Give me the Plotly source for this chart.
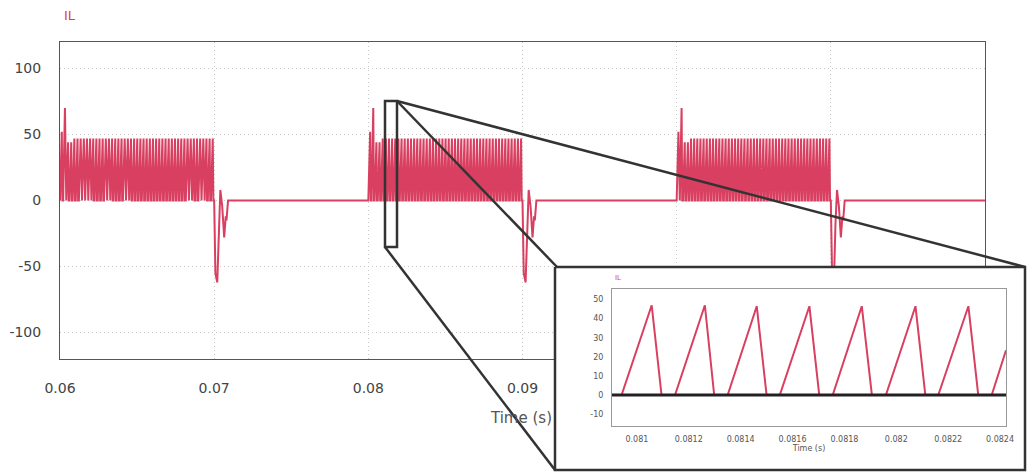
import plotly.graph_objects as go

W, H = 1028, 472

# ---------------- main chart data ----------------
burst_start = [0.060, 0.080, 0.100]          # s, start of each switching burst
burst_end = [0.070, 0.090, 0.110]            # s, end of each switching burst
switching_period = 0.000204                  # s
cycle_phase = [0.0, 0.57, 0.76]              # rise start, peak, back to zero (fraction of period)
peak_current = 47                            # A, ripple peak inside a burst
start_peaks = [52, 70, 44, 44]               # A, first cycle peaks of each burst (start-up spike)
ring_dt = [0.00008, 0.0002, 0.0003, 0.0004, 0.00052, 0.00065, 0.00075, 0.0008, 0.0009]
ring_val = [-55, -62, -18, 8, -4, -28, -12, -15, 0]   # A, ringing after a burst ends
t_stop = 0.12

main_x_ticks = [0.06, 0.07, 0.08, 0.09, 0.10, 0.11]
main_x_text = ["0.06", "0.07", "0.08", "0.09", "0.1", "0.11"]
main_y_ticks = [-100, -50, 0, 50, 100]
main_y_text = ["-100", "-50", "0", "50", "100"]

# ---------------- inset data ----------------
inset_t = [0.080904, 0.080941, 0.081057, 0.081095, 0.081147, 0.081262, 0.081298,
           0.081350, 0.081462, 0.081500, 0.081551, 0.081665, 0.081703, 0.081755,
           0.081867, 0.081906, 0.081960, 0.082074, 0.082112, 0.082162, 0.082278,
           0.082316, 0.082368, 0.082423]
inset_i = [0, 0, 47, 0, 0, 47, 0, 0, 46.5, 0, 0, 46.5, 0, 0, 46.5, 0, 0, 46.5,
           0, 0, 46.5, 0, 0, 23.5]
inset_x_ticks = [0.081, 0.0812, 0.0814, 0.0816, 0.0818, 0.082, 0.0822, 0.0824]
inset_x_text = ["0.081", "0.0812", "0.0814", "0.0816", "0.0818", "0.082", "0.0822", "0.0824"]
inset_y_ticks = [-10, 0, 10, 20, 30, 40, 50]
inset_y_text = ["-10", "0", "10", "20", "30", "40", "50"]

RED = "#d83f60"
DARK = "#333333"

# build the main waveform from the read burst parameters
t, cur = [], []
T = switching_period
for b, (s, e) in enumerate(zip(burst_start, burst_end)):
    k = 0
    while s + (k + 1) * T <= e:
        t0 = s + k * T
        pk = start_peaks[k] if k < len(start_peaks) else peak_current
        t += [t0, t0 + cycle_phase[1] * T, t0 + cycle_phase[2] * T]
        cur += [0, pk, 0]
        k += 1
    t.append(e)
    cur.append(0)
    for dt, v in zip(ring_dt, ring_val):
        t.append(e + dt)
        cur.append(v)
t.append(t_stop)
cur.append(0)


def px(x):
    return x / W


def py(y):
    return 1 - y / H


fig = go.Figure()

# main trace
fig.add_trace(go.Scatter(x=t, y=cur, mode="lines", line=dict(color=RED, width=2),
                         xaxis="x", yaxis="y", showlegend=False, hoverinfo="skip"))

# inset frame (white panel covering the main plot), in a pixel-space overlay subplot
frame_x = [555, 1025, 1025, 555, 555]
frame_y = [267, 267, 470, 470, 267]
fig.add_trace(go.Scatter(x=frame_x, y=frame_y, mode="lines", fill="toself",
                         fillcolor="white", line=dict(color=DARK, width=2.5),
                         xaxis="x2", yaxis="y2", showlegend=False, hoverinfo="skip"))

# inset trace
fig.add_trace(go.Scatter(x=inset_t, y=inset_i, mode="lines", line=dict(color=RED, width=2),
                         xaxis="x3", yaxis="y3", showlegend=False, hoverinfo="skip"))

tick_font = dict(family="DejaVu Sans", size=14, color="#444")
small_font = dict(family="DejaVu Sans", size=8, color="#555")
GRID = "#c8c8c8"
GRID_DASH = "1px,3px"

fig.update_layout(
    width=W, height=H,
    margin=dict(l=0, r=0, t=0, b=0, autoexpand=False),
    paper_bgcolor="white",
    plot_bgcolor="rgba(0,0,0,0)",
    xaxis=dict(domain=[px(60), px(985)], range=[0.06, 0.12], tickvals=main_x_ticks,
               ticktext=main_x_text, tickfont=tick_font, showgrid=True, griddash=GRID_DASH,
               gridcolor=GRID, gridwidth=1, showline=True, mirror=True,
               linecolor="#555", linewidth=1, zeroline=False, ticks="",
               ticklabelstandoff=16, anchor="y"),
    yaxis=dict(domain=[py(359), py(42)], range=[-120, 120], tickvals=main_y_ticks,
               ticktext=main_y_text, tickfont=tick_font, showgrid=True, griddash=GRID_DASH,
               gridcolor=GRID, gridwidth=1, showline=True, mirror=True,
               linecolor="#555", linewidth=1, zeroline=False, ticks="",
               ticklabelstandoff=15, anchor="x"),
    xaxis2=dict(domain=[0, 1], range=[0, W], visible=False, anchor="y2"),
    yaxis2=dict(domain=[0, 1], range=[H, 0], visible=False, anchor="x2"),
    xaxis3=dict(domain=[px(612), px(1006)], range=[inset_t[0], inset_t[-1]],
                tickvals=inset_x_ticks, ticktext=inset_x_text, tickfont=small_font,
                showgrid=False, showline=True, mirror=True, linecolor="#999",
                linewidth=1, zeroline=False, ticks="", ticklabelstandoff=6,
                title=dict(text="Time (s)", font=small_font, standoff=2), anchor="y3"),
    yaxis3=dict(domain=[py(425.7), py(289)], range=[-16, 55.5], tickvals=inset_y_ticks,
                ticktext=inset_y_text, tickfont=small_font, showgrid=False,
                showline=True, mirror=True, linecolor="#999", linewidth=1,
                zeroline=False, ticks="", ticklabelstandoff=6, anchor="x3"),
    annotations=[
        dict(text="IL", x=px(62), y=py(15), xref="paper", yref="paper", xanchor="left",
             yanchor="middle", showarrow=False,
             font=dict(family="DejaVu Sans", size=13, color=RED)),
        dict(text="Time (s)", x=px(521), y=py(418), xref="paper", yref="paper",
             xanchor="center", yanchor="middle", showarrow=False,
             font=dict(family="DejaVu Sans", size=15, color="#555")),
        dict(text="IL", x=px(613), y=py(278), xref="paper", yref="paper", xanchor="left",
             yanchor="middle", showarrow=False,
             font=dict(family="DejaVu Sans", size=7, color=RED)),
    ],
    shapes=[
        # zoom box on the main chart
        dict(type="rect", xref="paper", yref="paper", x0=px(385), x1=px(397),
             y0=py(247), y1=py(101), line=dict(color=DARK, width=2.5),
             fillcolor="rgba(0,0,0,0)", layer="above"),
        # connector lines
        dict(type="line", xref="paper", yref="paper", x0=px(397), y0=py(101),
             x1=px(557), y1=py(267), line=dict(color=DARK, width=2.5), layer="above"),
        dict(type="line", xref="paper", yref="paper", x0=px(397), y0=py(101),
             x1=px(1025), y1=py(267), line=dict(color=DARK, width=2.5), layer="above"),
        dict(type="line", xref="paper", yref="paper", x0=px(385), y0=py(247),
             x1=px(555), y1=py(470), line=dict(color=DARK, width=2.5), layer="above"),
        # inset zero line (drawn over the trace)
        dict(type="line", xref="x3 domain", yref="y3", x0=0, x1=1, y0=0, y1=0,
             line=dict(color="#222", width=3), layer="above"),
    ],
)

fig.write_html(
    "out.html",
    config=dict(displayModeBar=False),
    post_script="document.body.style.margin='0';document.body.style.overflow='hidden';",
)
